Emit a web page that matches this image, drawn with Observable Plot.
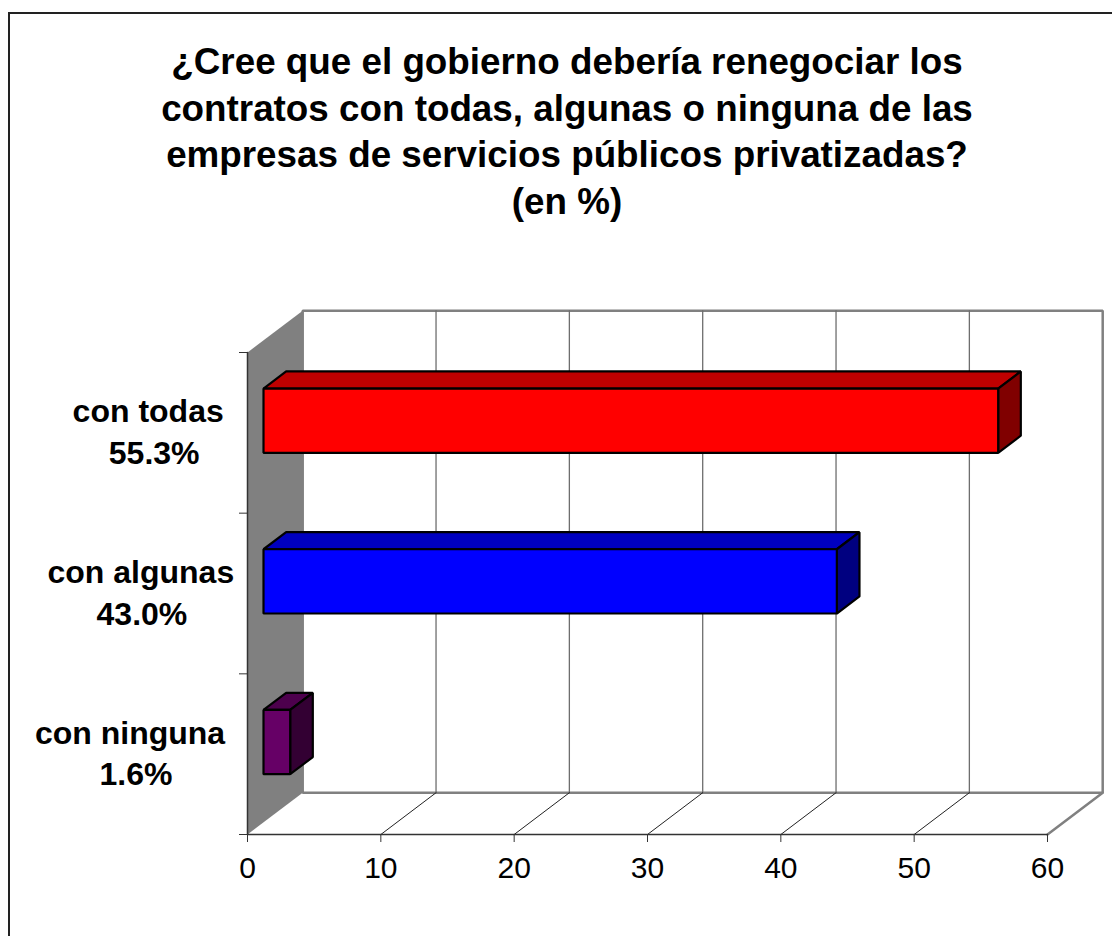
<!DOCTYPE html>
<html><head><meta charset="utf-8">
<script src="https://cdn.jsdelivr.net/npm/d3@7"></script>
<script src="https://cdn.jsdelivr.net/npm/@observablehq/plot@0.6"></script>
<style>
html,body{margin:0;padding:0;background:#fff;width:1112px;height:936px;overflow:hidden}
#frame{position:absolute;left:8px;top:12px;width:1200px;height:1000px;border:2px solid #222;box-sizing:border-box}
#title{position:absolute;left:11px;top:39px;width:1112px;height:204px;text-align:center;font:bold 36.8px/46.5px "Liberation Sans",Arial,sans-serif;color:#000}
#chart{position:absolute;left:0;top:250px}
</style></head><body>
<div id="frame"></div>
<div id="title">¿Cree que el gobierno debería renegociar los<br>contratos con todas, algunas o ninguna de las<br>empresas de servicios públicos privatizadas?<br>(en %)</div>
<div id="chart"></div>
<script>
const categories = ["con ninguna", "con algunas", "con todas"];
const labels = ["1.6%", "43.0%", "55.3%"];
const barLengths = [2.0, 43.0, 55.1];
const xTicks = [0, 10, 20, 30, 40, 50, 60];
const yTicks = [0, 1, 2, 3];
const faceColors = ["#660066", "#0000ff", "#ff0000"];
const topColors = ["#4d004d", "#0000bf", "#bf0000"];
const sideColors = ["#330033", "#000080", "#800000"];

// oblique projection of (value, band position, depth 0..1) into scale units
const DX = 4.14, DY = 0.26;
const P = (v, y, f) => ({x: v + DX * f, y: y + DY * f});
const F0 = 0.29, F1 = 0.70, BAND = 0.2;
const nameX = [-8.81, -8.0, -7.45];
const valueX = [-8.36, -7.92, -7.0];

const poly = (pts, fill, stroke, strokeWidth) =>
  Plot.line(pts, {x: "x", y: "y", curve: "linear-closed", fill, stroke, strokeWidth, strokeLinejoin: "miter"});
const seg = (a, b, stroke, strokeWidth) =>
  Plot.line([a, b], {x: "x", y: "y", stroke, strokeWidth});

const marks = [
  poly([P(0,0,1), P(60,0,1), P(60,3,1), P(0,3,1)], "#fff", "#808080", 2.5),
  poly([P(0,0,0), P(0,0,1), P(0,3,1), P(0,3,0)], "#808080", "none", 0),
  ...xTicks.slice(1, -1).map(t => seg(P(t,0,1), P(t,3,1), "#6e6e6e", 1.3)),
  ...xTicks.slice(1, -1).map(t => seg(P(t,0,0), P(t,0,1), "#222", 1)),
  seg(P(60,0,0), P(60,0,1), "#808080", 2.5),
  Plot.axisX({ticks: xTicks, tickSize: 8, tickPadding: 14, fontSize: 30, tickFormat: d => d, stroke: "#333", label: null}),
  Plot.axisY({ticks: yTicks, tickSize: 8, tickFormat: () => "", stroke: "#333", label: null}),
  seg(P(0,0,0), P(60,0,0), "#333", 1.5),
  seg(P(0,0,0), P(0,3,0), "#333", 1.5)
];
const labelStyle = {fontSize: 32, fontWeight: "bold", textAnchor: "middle", fill: "#000"};
categories.forEach((c, i) => {
  const v = barLengths[i], lo = i + 0.5 - BAND, hi = i + 0.5 + BAND;
  marks.push(
    poly([P(0,hi,F0), P(v,hi,F0), P(v,hi,F1), P(0,hi,F1)], topColors[i], "#000", 2.2),
    poly([P(v,lo,F0), P(v,hi,F0), P(v,hi,F1), P(v,lo,F1)], sideColors[i], "#000", 2.2),
    poly([P(0,lo,F0), P(v,lo,F0), P(v,hi,F0), P(0,hi,F0)], faceColors[i], "#000", 2.2),
    Plot.text([c], {x: nameX[i], y: i + 0.5, text: d => d, dy: -20.7, ...labelStyle}),
    Plot.text([labels[i]], {x: valueX[i], y: i + 0.5, text: d => d, dy: 20.8, ...labelStyle})
  );
});

const plot = Plot.plot({
  width: 1112, height: 686,
  marginLeft: 247, marginRight: 65, marginTop: 102, marginBottom: 102,
  x: {type: "linear", domain: [0, 60], label: null},
  y: {type: "linear", domain: [0, 3], label: null},
  style: {fontFamily: "'Liberation Sans',Arial,sans-serif", background: "transparent", overflow: "visible", color: "#000"},
  marks
});
document.getElementById("chart").appendChild(plot);
</script>
</body></html>
